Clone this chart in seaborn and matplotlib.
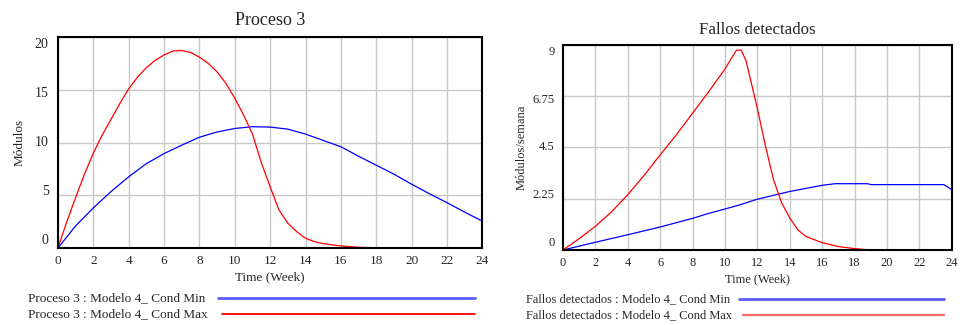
import numpy as np
import pandas as pd
import matplotlib
matplotlib.use("Agg")
import matplotlib.pyplot as plt
from matplotlib.lines import Line2D
import seaborn as sns

# Datos (Vensim)
semanas_p3_min = [0, 1, 2, 3, 4, 5, 6, 7, 8, 9, 10, 11, 12, 13, 14, 15, 16, 17, 18, 19, 20,
                  21, 22, 23, 24]
proceso3_min = [0, 2.1, 3.8, 5.35, 6.75, 8.0, 8.95, 9.75, 10.5, 11.0, 11.33, 11.5, 11.46, 11.27,
                10.8, 10.2, 9.6, 8.7, 7.85, 7.0, 6.05, 5.15, 4.3, 3.4, 2.55]
semanas_p3_max = [0, 0.5, 1, 1.5, 2, 2.5, 3, 3.5, 4, 4.5, 5, 5.5, 6, 6.5, 7, 7.5, 8, 8.5, 9,
                  9.5, 10, 10.5, 11, 11.5, 12, 12.5, 13, 13.5, 14, 14.5, 15, 16, 17, 18, 19, 24]
proceso3_max = [0, 2.5, 4.8, 7.0, 9.0, 10.7, 12.2, 13.7, 15.1, 16.2, 17.1, 17.8, 18.3, 18.67,
                18.73, 18.54, 18.1, 17.5, 16.7, 15.6, 14.2, 12.6, 10.8, 8.1, 5.8, 3.6, 2.35,
                1.55, 0.92, 0.6, 0.41, 0.19, 0.07, 0.02, 0, 0]

semanas_f_min = [0, 2, 4, 6, 8, 9, 10, 10.9, 12, 14, 16, 16.8, 18.8, 19, 23.5, 24]
fallos_min = [0, 0.34, 0.67, 1.01, 1.39, 1.61, 1.8, 1.98, 2.23, 2.57, 2.84, 2.91, 2.91, 2.87,
              2.87, 2.65]
semanas_f_max = [0, 1, 2, 3, 4, 5, 6, 7, 8, 9, 10, 10.7, 11.0, 11.3, 11.5, 12, 12.5, 13, 13.5,
                 14, 14.5, 15, 16, 17, 18, 19, 24]
fallos_max = [0, 0.5, 1.04, 1.68, 2.43, 3.27, 4.18, 5.06, 6.01, 6.96, 7.95, 8.77, 8.77, 8.3,
              7.7, 6.2, 4.55, 3.07, 2.06, 1.4, 0.88, 0.59, 0.32, 0.15, 0.06, 0, 0]

xticks = list(range(0, 25, 2))
yticks_p3 = [0, 5, 10, 15, 20]
ylabels_p3 = ["0", "5", "10", "15", "20"]
yticks_f = [0, 2.25, 4.5, 6.75, 9]
ylabels_f = ["0", "2.25", "4.5", "6.75", "9"]

sns.set_style("white")
plt.rcParams['font.family'] = ['Liberation Serif', 'DejaVu Serif']

fig = plt.figure(figsize=(9.6, 3.25), dpi=100)
ax1 = fig.add_axes([0.0604, 0.237, 0.442, 0.649])
ax2 = fig.add_axes([0.5865, 0.2308, 0.405, 0.6308])


def dibujar(ax, x_min, y_min, x_max, y_max, yticks, ylabels, ymax, titulo, ylabel,
            title_pad, title_fs, fs, ytick_fs, ylabelpad):
    df_min = pd.DataFrame({"t": x_min, "v": y_min})
    df_max = pd.DataFrame({"t": x_max, "v": y_max})
    sns.lineplot(data=df_min, x="t", y="v", ax=ax, color="#0000ff", linewidth=0.9)
    sns.lineplot(data=df_max, x="t", y="v", ax=ax, color="#ff0000", linewidth=0.9)
    ax.set_xlim(0, 24)
    ax.set_ylim(0, ymax)
    ax.set_xticks(xticks)
    ax.set_yticks(yticks)
    ax.set_yticklabels([])
    ax.tick_params(axis="y", length=0)
    ax.tick_params(axis="x", length=0, labelsize=fs, pad=5)
    ax.grid(True, color="#c8c8c8", linewidth=1.0)
    ax.set_axisbelow(True)
    for s in ax.spines.values():
        s.set_color("black")
        s.set_linewidth(1.5)
    # etiquetas de eje Y al estilo Vensim (espaciadas un poco hacia dentro)
    for v, lab in zip(yticks, ylabels):
        ax.text(-0.022, 0.035 + 0.93 * v / ymax, lab, transform=ax.transAxes,
                ha="right", va="center", fontsize=ytick_fs)
    ax.set_xlabel("Time (Week)", fontsize=fs, labelpad=3)
    ax.set_ylabel(ylabel, fontsize=fs, labelpad=ylabelpad)
    ax.set_title(titulo, fontsize=title_fs, pad=title_pad)


dibujar(ax1, semanas_p3_min, proceso3_min, semanas_p3_max, proceso3_max, yticks_p3,
        ylabels_p3, 20, "Proceso 3", "Módulos", 9, 13, 9.5, 10, 20)
dibujar(ax2, semanas_f_min, fallos_min, semanas_f_max, fallos_max, yticks_f,
        ylabels_f, 9, "Fallos detectados", "Módulos/semana", 8, 12.2, 9, 9, 22)

# leyendas estilo Vensim
leyendas = [
    (28, 218, 475, "Proceso 3 : Modelo 4_ Cond Min", "#5c5cff", 2.0, 298, 9.5),
    (28, 222, 475, "Proceso 3 : Modelo 4_ Cond Max", "#ff0000", 1.3, 314, 9.5),
    (526, 739, 944, "Fallos detectados : Modelo 4_ Cond Min", "#5c5cff", 2.0, 299, 8.9),
    (526, 743, 944, "Fallos detectados : Modelo 4_ Cond Max", "#ff6666", 1.6, 315, 8.9),
]
for xt, xl, x_end, texto, col, lw, yp, tfs in leyendas:
    yf = 1 - yp / 325
    fig.text(xt / 960, yf, texto, fontsize=tfs, ha="left", va="center")
    fig.add_artist(Line2D([xl / 960, x_end / 960], [yf, yf], color=col, linewidth=lw,
                          transform=fig.transFigure))

fig.savefig("out.png", dpi=100)
